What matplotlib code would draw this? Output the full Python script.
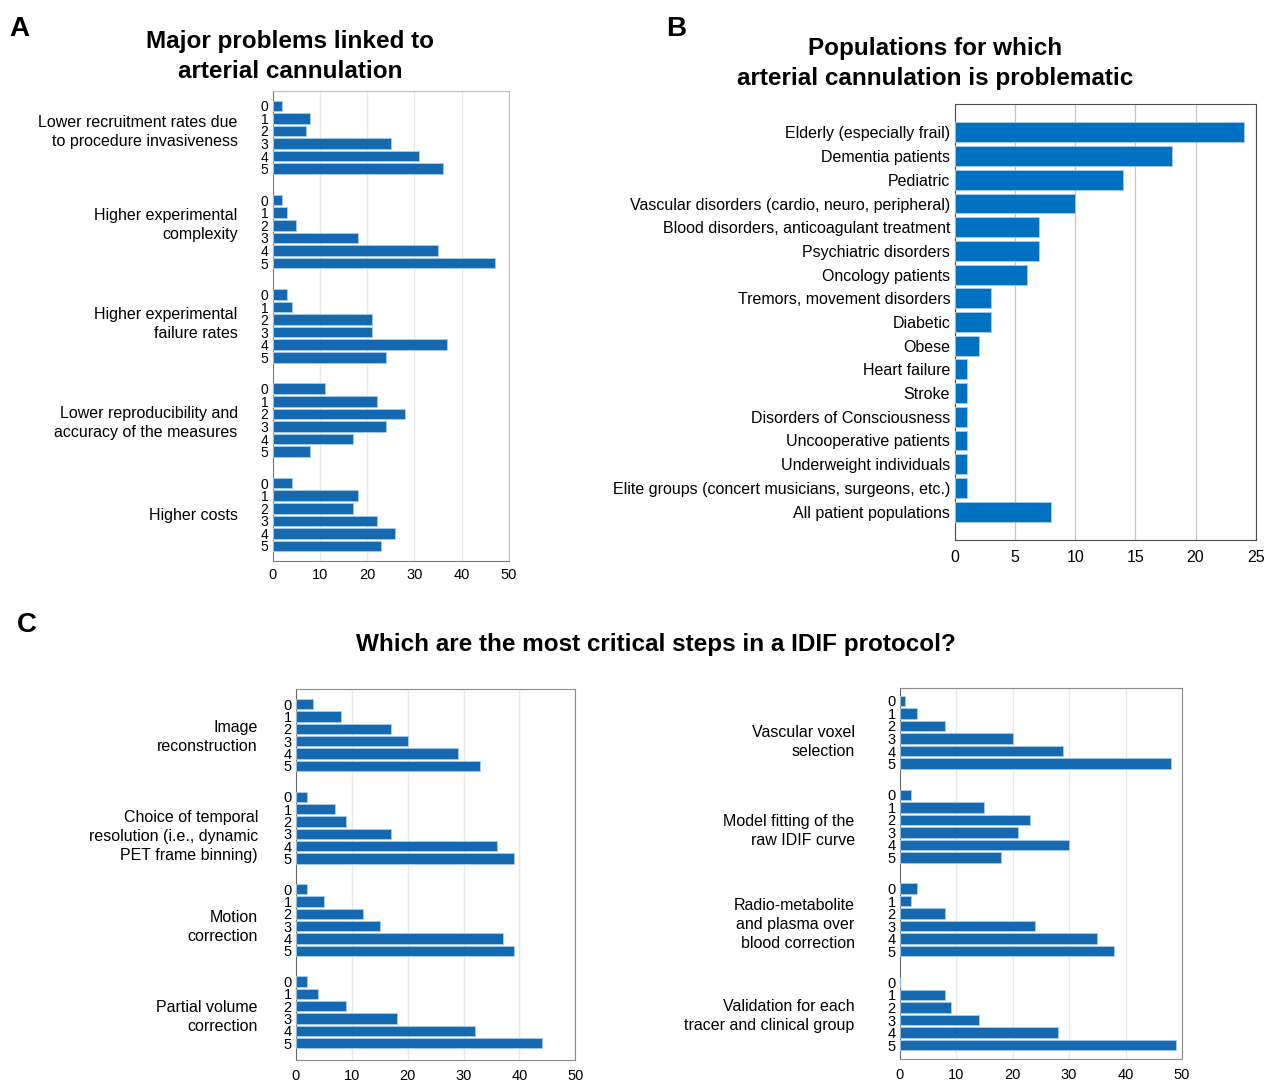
import numpy as np
import matplotlib
matplotlib.use("Agg")
import matplotlib.pyplot as plt
from matplotlib.transforms import blended_transform_factory

plt.rcParams['font.family'] = ['Liberation Sans', 'DejaVu Sans']

# ---------------- data ----------------
score_levels = ["0", "1", "2", "3", "4", "5"]

# Panel A: major problems linked to arterial cannulation (counts per score)
a_problems = [
    "Lower recruitment rates due\nto procedure invasiveness",
    "Higher experimental\ncomplexity",
    "Higher experimental\nfailure rates",
    "Lower reproducibility and\naccuracy of the measures",
    "Higher costs",
]
a_recruitment = [2, 8, 7, 25, 31, 36]
a_complexity = [2, 3, 5, 18, 35, 47]
a_failure = [3, 4, 21, 21, 37, 24]
a_reproducibility = [11, 22, 28, 24, 17, 8]
a_costs = [4, 18, 17, 22, 26, 23]

# Panel B: populations for which arterial cannulation is problematic
b_populations = [
    "Elderly (especially frail)",
    "Dementia patients",
    "Pediatric",
    "Vascular disorders (cardio, neuro, peripheral)",
    "Blood disorders, anticoagulant treatment",
    "Psychiatric disorders",
    "Oncology patients",
    "Tremors, movement disorders",
    "Diabetic",
    "Obese",
    "Heart failure",
    "Stroke",
    "Disorders of Consciousness",
    "Uncooperative patients",
    "Underweight individuals",
    "Elite groups (concert musicians, surgeons, etc.)",
    "All patient populations",
]
b_counts = [24, 18, 14, 10, 7, 7, 6, 3, 3, 2, 1, 1, 1, 1, 1, 1, 8]

# Panel C: most critical steps in an IDIF protocol
c_left_steps = [
    "Image\nreconstruction",
    "Choice of temporal\nresolution (i.e., dynamic\nPET frame binning)",
    "Motion\ncorrection",
    "Partial volume\ncorrection",
]
c_image_recon = [3, 8, 17, 20, 29, 33]
c_temporal = [2, 7, 9, 17, 36, 39]
c_motion = [2, 5, 12, 15, 37, 39]
c_pvc = [2, 4, 9, 18, 32, 44]

c_right_steps = [
    "Vascular voxel\nselection",
    "Model fitting of the\nraw IDIF curve",
    "Radio-metabolite\nand plasma over\nblood correction",
    "Validation for each\ntracer and clinical group",
]
c_voxel = [1, 3, 8, 20, 29, 48]
c_fitting = [2, 15, 23, 21, 30, 18]
c_metabolite = [3, 2, 8, 24, 35, 38]
c_validation = [0, 8, 9, 14, 28, 49]

# ---------------- style ----------------
BAR = "#1469b0"
BAR_B = "#0070c0"
EDGE = "#a9cdeb"
GRID_LIGHT = "#e9e9e9"
GRID_B = "#c4c4c4"
LABEL_FS = 11.5
TITLE_FS = 17.5

W, H = 1265, 1081
fig = plt.figure(figsize=(W / 100, H / 100), dpi=100)


def px_axes(x0, y0, x1, y1):
    """Axes from pixel box (left, top, right, bottom)."""
    return fig.add_axes([x0 / W, 1 - y1 / H, (x1 - x0) / W, (y1 - y0) / H])


def grouped_panel(ax, labels, series, top_pad, bottom_pad, label_gap_px,
                  label_nudge_px, tick_fs=10, xtick_fs=10.5, xpad=6.5):
    period = 7.5
    ticks, ticklabels = [], []
    for g, vals in enumerate(series):
        pos = g * period + np.arange(len(vals))
        ax.barh(pos, vals, height=0.84, color=BAR, edgecolor=EDGE,
                linewidth=0.6, zorder=3)
        ticks.extend(pos)
        ticklabels.extend(score_levels)
    last = (len(series) - 1) * period + len(score_levels) - 1
    ax.set_yticks(ticks, ticklabels, fontsize=tick_fs)
    ax.set_ylim(last + bottom_pad, -top_pad)
    ax.set_xlim(0, 50)
    ax.set_xticks(np.arange(0, 51, 10))
    ax.tick_params(axis='x', length=0, pad=xpad, labelsize=xtick_fs)
    ax.tick_params(axis='y', length=0, pad=3)
    ax.xaxis.grid(True, color=GRID_LIGHT, linewidth=1, zorder=0)
    ax.set_axisbelow(True)
    trans = blended_transform_factory(ax.transAxes, ax.transData)
    for g, lab in enumerate(labels):
        ax.annotate(lab, xy=(0, g * period + 2.5), xycoords=trans,
                    xytext=(-label_gap_px, -label_nudge_px[g]),
                    textcoords='offset pixels',
                    ha='right', va='center', multialignment='right',
                    fontsize=LABEL_FS, linespacing=1.33)


# ---------------- panel A ----------------
axA = px_axes(272.7, 90.7, 508.7, 560.7)
grouped_panel(axA, a_problems,
              [a_recruitment, a_complexity, a_failure, a_reproducibility, a_costs],
              top_pad=1.2, bottom_pad=1.17, label_gap_px=35,
              label_nudge_px=[-5, -7, -2, 3, 1], xpad=5.5)
for side in ("top", "right"):
    axA.spines[side].set_color("#bdbdbd")
for side in ("left", "bottom"):
    axA.spines[side].set_color("#7a7a7a")

# ---------------- panel B ----------------
axB = px_axes(955, 104, 1255.7, 540)
yb = np.arange(len(b_populations))
axB.barh(yb, b_counts, height=0.84, color=BAR_B, edgecolor=EDGE,
         linewidth=0.6, zorder=3)
axB.set_yticks(yb, b_populations, fontsize=LABEL_FS)
axB.set_ylim(len(b_populations) - 1 + 1.2, -1.2)
axB.set_xlim(0, 25)
axB.set_xticks(np.arange(0, 26, 5))
axB.tick_params(axis='x', length=0, pad=7.5, labelsize=11.5)
axB.tick_params(axis='y', length=0, pad=3.5)
axB.xaxis.grid(True, color=GRID_B, linewidth=0.9, zorder=0)
axB.set_axisbelow(True)
for side in axB.spines.values():
    side.set_color("#4d4d4d")

# ---------------- panel C ----------------
axCL = px_axes(296, 689, 575.3, 1060.3)
grouped_panel(axCL, c_left_steps, [c_image_recon, c_temporal, c_motion, c_pvc],
              top_pad=1.24, bottom_pad=1.38, label_gap_px=38,
              label_nudge_px=[2, 9, 7, 5], tick_fs=10.5)
axCR = px_axes(899.7, 687.7, 1182, 1059.3)
grouped_panel(axCR, c_right_steps, [c_voxel, c_fitting, c_metabolite, c_validation],
              top_pad=1.06, bottom_pad=1.14, label_gap_px=45,
              label_nudge_px=[10, 5, 5, 2], tick_fs=10.5)
for ax in (axCL, axCR):
    for side in ax.spines.values():
        side.set_color("#8a8a8a")
    ax.spines["left"].set_color("#6a6a6a")

# ---------------- titles and panel letters ----------------
fig.text(290 / W, 1 - 56.5 / H, "Major problems linked to\narterial cannulation",
         ha='center', va='center', fontsize=TITLE_FS, fontweight='bold',
         linespacing=1.36)
fig.text(935 / W, 1 - 63.5 / H, "Populations for which\narterial cannulation is problematic",
         ha='center', va='center', fontsize=TITLE_FS, fontweight='bold',
         linespacing=1.36)
fig.text(656 / W, 1 - 644 / H, "Which are the most critical steps in a IDIF protocol?",
         ha='center', va='center', fontsize=TITLE_FS, fontweight='bold')

fig.text(9 / W, 1 - 29 / H, "A", ha='left', va='center', fontsize=20, fontweight='bold')
fig.text(666 / W, 1 - 29 / H, "B", ha='left', va='center', fontsize=20, fontweight='bold')
fig.text(17 / W, 1 - 625 / H, "C", ha='left', va='center', fontsize=20, fontweight='bold')

fig.savefig("out.png", dpi=100)
